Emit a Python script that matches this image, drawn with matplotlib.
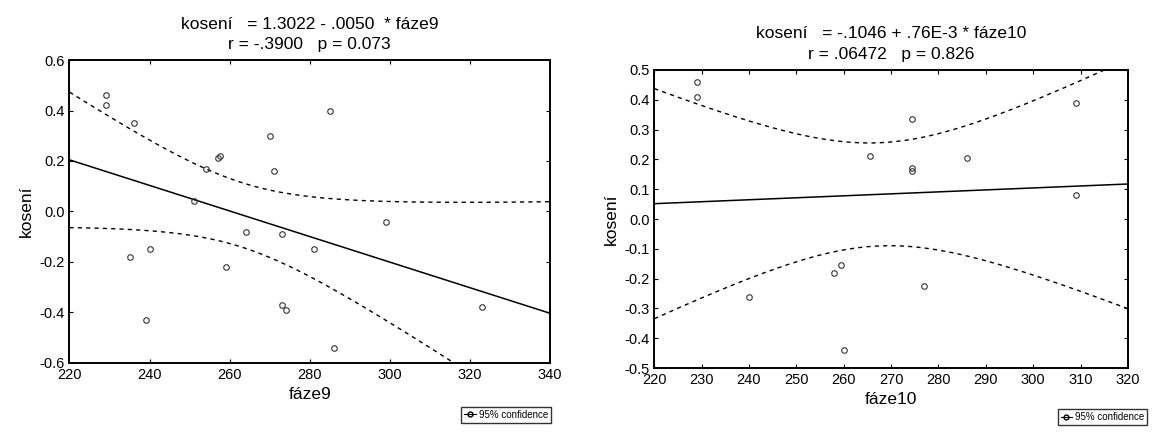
import numpy as np
import matplotlib
matplotlib.use('Agg')
import matplotlib.pyplot as plt
from matplotlib.lines import Line2D

plt.rcParams['font.family'] = ['Liberation Sans', 'DejaVu Sans']

# fáze9 vs kosení (22 bodů)
faze9 = [229, 229, 236, 235, 240, 239, 251, 254, 257, 257.5, 259,
         264, 270, 271, 273, 273, 274, 281, 285, 286, 299, 323]
koseni9 = [0.46, 0.42, 0.35, -0.18, -0.15, -0.43, 0.04, 0.17, 0.21, 0.22, -0.22,
           -0.08, 0.30, 0.16, -0.09, -0.37, -0.39, -0.15, 0.40, -0.54, -0.04, -0.38]

# fáze10 vs kosení (14 bodů)
faze10 = [229, 229, 240, 258, 259.5, 260, 265.5, 274.5, 274.5, 274.5,
          277, 286, 309, 309]
koseni10 = [0.46, 0.41, -0.26, -0.18, -0.155, -0.44, 0.21, 0.335, 0.17, 0.16,
            -0.225, 0.205, 0.39, 0.08]

titles = ["kosení   = 1.3022 - .0050  * fáze9\nr = -.3900   p = 0.073",
          "kosení   = -.1046 + .76E-3 * fáze10\nr = .06472   p = 0.826"]
xlabels = ["fáze9", "fáze10"]
# t kvantily 0.975 pro df = n-2
t_crit = [2.086, 2.179]


def conf_band(x, y, xs, t):
    x = np.asarray(x, float)
    y = np.asarray(y, float)
    b, a = np.polyfit(x, y, 1)
    n = len(x)
    res = y - (a + b * x)
    s = np.sqrt(np.sum(res ** 2) / (n - 2))
    sxx = np.sum((x - x.mean()) ** 2)
    fit = a + b * xs
    hw = t * s * np.sqrt(1 / n + (xs - x.mean()) ** 2 / sxx)
    return fit, fit - hw, fit + hw


fig = plt.figure(figsize=(11.58, 4.32), dpi=100)
ax1 = fig.add_axes([0.060, 0.160, 0.415, 0.701])
ax2 = fig.add_axes([0.565, 0.148, 0.409, 0.690])

setups = [
    (ax1, faze9, koseni9, (220, 340), (-0.6, 0.6), np.arange(220, 341, 20), np.arange(-0.6, 0.61, 0.2)),
    (ax2, faze10, koseni10, (220, 320), (-0.5, 0.5), np.arange(220, 321, 10), np.arange(-0.5, 0.51, 0.1)),
]

for i, (ax, x, y, xl, yl, xt, yt) in enumerate(setups):
    xs = np.linspace(xl[0], xl[1], 200)
    fit, lo, hi = conf_band(x, y, xs, t_crit[i])
    ax.plot(xs, fit, color='black', lw=1.1)
    ax.plot(xs, lo, color='black', lw=1.0, ls=(0, (3, 3)))
    ax.plot(xs, hi, color='black', lw=1.0, ls=(0, (3, 3)))
    ax.plot(x, y, 'o', mfc='none', mec='#333333', ms=4, mew=0.8)
    ax.set_xlim(xl)
    ax.set_ylim(yl)
    ax.set_xticks(xt)
    ax.set_yticks(yt)
    ax.set_yticklabels([f"{round(v, 1) + 0.0:.1f}".replace("-0.0", "0.0") for v in yt])
    ax.tick_params(direction='in', top=True, right=True, length=3, labelsize=10.5)
    for sp in ax.spines.values():
        sp.set_linewidth(1.4)
    ax.set_xlabel(xlabels[i], fontsize=12.5)
    ax.set_ylabel("kosení", fontsize=12.5)
    ax.set_title(titles[i], fontsize=12.5, linespacing=1.45, pad=8)

handle = Line2D([], [], color='black', lw=0.8, marker='o', mfc='none', ms=3.5)
fig.legend([handle], ["95% confidence"], loc='lower right', bbox_to_anchor=(0.48, 0.01),
           fontsize=7, frameon=True, fancybox=False, edgecolor='black',
           handlelength=1.2, borderpad=0.3, handletextpad=0.3)
fig.legend([handle], ["95% confidence"], loc='lower right', bbox_to_anchor=(0.995, 0.005),
           fontsize=7, frameon=True, fancybox=False, edgecolor='black',
           handlelength=1.2, borderpad=0.3, handletextpad=0.3)

fig.savefig('out.png', dpi=100)
